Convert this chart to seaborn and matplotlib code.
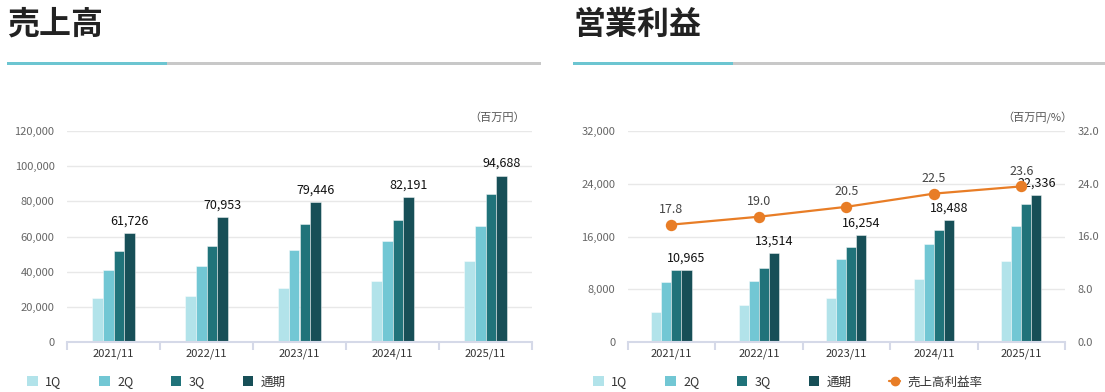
# 売上高 / 営業利益 の四半期累計グラフ (seaborn)
import numpy as np
import pandas as pd
import matplotlib.pyplot as plt
import seaborn as sns
from matplotlib.patches import Patch, Rectangle
from matplotlib.lines import Line2D
from matplotlib.ticker import FuncFormatter

# データ
years = ["2021/11", "2022/11", "2023/11", "2024/11", "2025/11"]
quarters = ["1Q", "2Q", "3Q", "通期"]

sales_1q = [25200, 25900, 30600, 34600, 45800]
sales_2q = [40700, 43200, 52400, 57500, 65700]
sales_3q = [52000, 54600, 66900, 69300, 84100]
sales_full = [61726, 70953, 79446, 82191, 94688]

profit_1q = [4500, 5580, 6650, 9570, 12280]
profit_2q = [9100, 9270, 12540, 14890, 17600]
profit_3q = [10900, 11160, 14430, 17040, 20880]
profit_full = [10965, 13514, 16254, 18488, 22336]

margin = [17.8, 19.0, 20.5, 22.5, 23.6]

# 色
farger = {"1Q": "#b2e3ea", "2Q": "#72c7d4", "3Q": "#20737a", "通期": "#174f57"}
orange = "#e87d26"
teal_line = "#6cc5d1"
grey_line = "#c8c8c8"
axis_col = "#d5d9e8"
grid_col = "#e8e8e8"

W, H = 1105, 392


def lag_df(serier):
    rows = []
    for q, vals in zip(quarters, serier):
        for y, v in zip(years, vals):
            rows.append({"year": y, "q": q, "value": v})
    return pd.DataFrame(rows)


def px(x0, y0, w, h):
    # piksel (fra topp) -> figurbrøk
    return [x0 / W, 1 - (y0 + h) / H, w / W, h / H]


def tegn_panel(fig, rect, df, ymax, ystep, fulle):
    ax = fig.add_axes(rect)
    sns.barplot(data=df, x="year", y="value", hue="q", order=years,
                hue_order=quarters, palette=farger, saturation=1, width=0.46,
                gap=0, edgecolor=(1, 1, 1, 0.45), linewidth=0.7, legend=False,
                ax=ax)
    ax.set_xlim(-0.5, len(years) - 0.5)
    ax.set_ylim(0, ymax)
    ax.set_yticks(np.arange(0, ymax + 1, ystep))
    ax.yaxis.set_major_formatter(FuncFormatter(lambda v, p: f"{int(v):,}"))
    ax.grid(axis="y", color=grid_col, linewidth=1)
    ax.grid(axis="x", visible=False)
    ax.set_axisbelow(True)
    for s in ["top", "right", "left"]:
        ax.spines[s].set_visible(False)
    ax.spines["bottom"].set_color(axis_col)
    ax.spines["bottom"].set_linewidth(1.5)
    ax.set_xlabel("")
    ax.set_ylabel("")
    ax.tick_params(axis="y", length=0, pad=9, labelsize=8, labelcolor="#666")
    ax.tick_params(axis="x", which="major", bottom=True, length=0, pad=5,
                   labelsize=8, labelcolor="#333")
    ax.set_xticks(np.arange(-0.5, len(years)), minor=True)
    ax.tick_params(axis="x", which="minor", bottom=True, direction="out",
                   length=6, width=1.5, color=axis_col)

    # etiketter på 通期
    ax.bar_label(ax.containers[3], labels=[f"{v:,}" for v in fulle],
                 padding=4, fontsize=9, color="#111")
    return ax


def tittel(fig, x0, x1, tekst):
    fig.text(x0 / W, 1 - 9 / H, tekst, fontsize=23, fontweight="bold",
             color="#222", va="top", ha="left")
    fig.add_artist(Rectangle((x0 / W, 1 - 65 / H), (x1 - x0) / W, 3 / H,
                             transform=fig.transFigure, color=grey_line, lw=0))
    fig.add_artist(Rectangle((x0 / W, 1 - 65 / H), 160 / W, 3 / H,
                             transform=fig.transFigure, color=teal_line, lw=0))


sns.set_style("white")
plt.rcParams["font.family"] = ["Noto Sans CJK JP", "DejaVu Sans"]

fig = plt.figure(figsize=(W / 100, H / 100), dpi=100)

# venstre: 売上高
tittel(fig, 7, 541, "売上高")
ax1 = tegn_panel(fig, px(67, 131, 465, 211),
                 lag_df([sales_1q, sales_2q, sales_3q, sales_full]),
                 120000, 20000, sales_full)
fig.text(525 / W, 1 - 118 / H, "（百万円）", fontsize=8, color="#555",
         ha="right", va="center")

# høyre: 営業利益
tittel(fig, 573, 1105, "営業利益")
ax2 = tegn_panel(fig, px(627.7, 131, 437.3, 211),
                 lag_df([profit_1q, profit_2q, profit_3q, profit_full]),
                 32000, 8000, profit_full)
fig.text(1072 / W, 1 - 118 / H, "（百万円/%）", fontsize=8, color="#555",
         ha="right", va="center")

ax3 = ax2.twinx()
sns.pointplot(x=years, y=margin, ax=ax3, color=orange, markersize=7,
              linewidth=1.6)
ax3.set_xlim(-0.5, len(years) - 0.5)
ax3.set_ylim(0, 32)
ax3.set_yticks(np.arange(0, 33, 8))
ax3.yaxis.set_major_formatter(FuncFormatter(lambda v, p: f"{v:.1f}"))
ax3.tick_params(axis="y", length=0, pad=9, labelsize=8, labelcolor="#666")
ax3.set_ylabel("")
ax3.grid(False)
for s in ax3.spines.values():
    s.set_visible(False)
for i, m in enumerate(margin):
    ax3.annotate(f"{m:.1f}", (i, m), xytext=(0, 6), textcoords="offset points",
                 ha="center", va="bottom", fontsize=9, color="#444")

# legender
bar_handles = [Patch(facecolor=farger[q], edgecolor="none") for q in quarters]
leg_kw = dict(loc="center left", frameon=False, fontsize=9, handlelength=0.85,
              handleheight=0.85, handletextpad=0.6, columnspacing=3.0,
              borderpad=0, borderaxespad=0, labelcolor="#333")
fig.legend(bar_handles, quarters, ncol=4, bbox_to_anchor=(27 / W, 10 / H), **leg_kw)
line_handle = Line2D([], [], color=orange, marker="o", markersize=6, linewidth=1.6)
fig.legend(bar_handles + [line_handle], quarters + ["売上高利益率"], ncol=5,
           bbox_to_anchor=(593 / W, 10 / H), **leg_kw)

fig.savefig("out.png", dpi=100)
